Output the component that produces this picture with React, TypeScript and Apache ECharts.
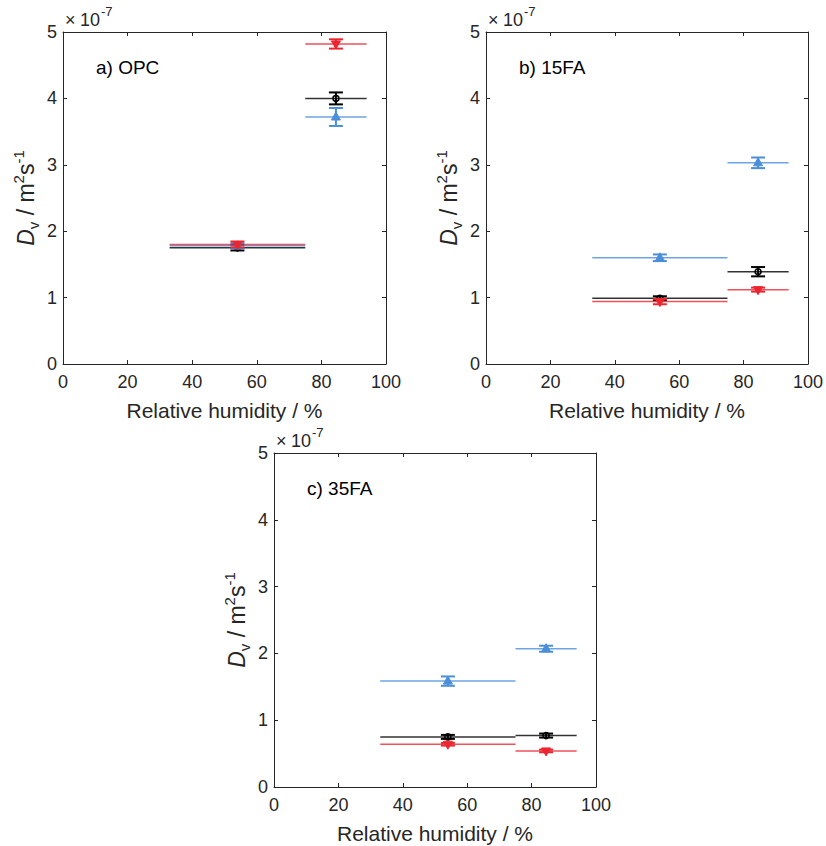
import React, { useEffect, useRef } from "react";
import * as echarts from "echarts";

// ---- data (D_v in units of 1e-7 m^2/s) ----
const panelLabels = ["a) OPC", "b) 15FA", "c) 35FA"];
const rhCenter = [54, 84.5];
const rhFrom = [33, 75];
const rhTo = [75, 94];

const opcBlack = [1.75, 4.0];
const opcBlackErr = [0.04, 0.09];
const opcBlue = [1.78, 3.72];
const opcBlueErr = [0.04, 0.135];
const opcRed = [1.8, 4.82];
const opcRedErr = [0.045, 0.07];

const fa15Black = [0.99, 1.39];
const fa15BlackErr = [0.03, 0.07];
const fa15Blue = [1.6, 3.03];
const fa15BlueErr = [0.05, 0.08];
const fa15Red = [0.94, 1.12];
const fa15RedErr = [0.04, 0.03];

const fa35Black = [0.75, 0.77];
const fa35BlackErr = [0.03, 0.03];
const fa35Blue = [1.585, 2.07];
const fa35BlueErr = [0.07, 0.045];
const fa35Red = [0.64, 0.54];
const fa35RedErr = [0.02, 0.02];

const xTicks = { min: 0, max: 100, interval: 20 };
const yTicks = { min: 0, max: 5, interval: 1 };

const FONT = "'Liberation Sans', Arial, Helvetica, sans-serif";
const AX = "#262626";
const BLACK = "#000000";
const BLUE = "#4A8FD8";
const RED = "#EC2631";

const grids = [
  { left: 63, top: 32, width: 323, height: 332 },
  { left: 486, top: 32, width: 322, height: 332 },
  { left: 274, top: 453, width: 322, height: 334 },
];

type Kind = "circle" | "up" | "down";

function makeSeries(panel: number, vals: number[], errs: number[], color: string, kind: Kind) {
  const data = vals.map((v, i) => [rhCenter[i], v, errs[i], rhFrom[i], rhTo[i]]);
  return {
    type: "custom",
    coordinateSystem: "cartesian2d",
    xAxisIndex: panel * 2,
    yAxisIndex: panel * 2,
    data,
    encode: { x: 0, y: 1 },
    renderItem: (params: any, api: any) => {
      const xc = api.value(0);
      const y = api.value(1);
      const e = api.value(2);
      const x0 = api.value(3);
      const x1 = api.value(4);
      const pL = api.coord([x0, y]);
      const pR = api.coord([x1, y]);
      const pc = api.coord([xc, y]);
      const pt = api.coord([xc, y + e]);
      const pb = api.coord([xc, y - e]);
      const cap = 7;
      const children: any[] = [
        {
          type: "line",
          shape: { x1: pL[0], y1: pL[1], x2: pR[0], y2: pR[1] },
          style: { stroke: color, lineWidth: 1.5, opacity: 0.8 },
        },
        {
          type: "line",
          shape: { x1: pt[0], y1: pt[1], x2: pb[0], y2: pb[1] },
          style: { stroke: color, lineWidth: 2 },
        },
        {
          type: "line",
          shape: { x1: pt[0] - cap, y1: pt[1], x2: pt[0] + cap, y2: pt[1] },
          style: { stroke: color, lineWidth: 2 },
        },
        {
          type: "line",
          shape: { x1: pb[0] - cap, y1: pb[1], x2: pb[0] + cap, y2: pb[1] },
          style: { stroke: color, lineWidth: 2 },
        },
      ];
      const cx = pc[0];
      const cy = pc[1];
      if (kind === "circle") {
        children.push({
          type: "circle",
          shape: { cx, cy, r: 3 },
          style: { stroke: color, fill: "none", lineWidth: 1.6 },
        });
      } else if (kind === "up") {
        children.push({
          type: "polygon",
          shape: { points: [[cx, cy - 5], [cx - 4.5, cy + 3], [cx + 4.5, cy + 3]] },
          style: { fill: color, stroke: color, lineWidth: 1 },
        });
      } else {
        children.push({
          type: "polygon",
          shape: { points: [[cx, cy + 5], [cx - 4.5, cy - 3], [cx + 4.5, cy - 3]] },
          style: { fill: color, stroke: color, lineWidth: 1 },
        });
      }
      return { type: "group", children };
    },
  };
}

export default function App() {
  const ref = useRef<HTMLDivElement>(null);
  useEffect(() => {
    if (!ref.current) return;
    const chart = echarts.init(ref.current, undefined, { renderer: "svg" });

    const lineStyle = { color: AX, width: 1 };
    const xAxes: any[] = [];
    const yAxes: any[] = [];
    grids.forEach((g, i) => {
      xAxes.push({
        gridIndex: i,
        type: "value",
        ...xTicks,
        position: "bottom",
        axisLine: { show: true, onZero: false, lineStyle },
        axisTick: { show: true, inside: true, length: 4, lineStyle },
        axisLabel: { fontSize: 18, color: AX, margin: 9, fontFamily: FONT },
        splitLine: { show: false },
        name: "Relative humidity / %",
        nameLocation: "middle",
        nameGap: 36,
        nameTextStyle: { fontSize: 21, color: AX, fontFamily: FONT },
      });
      xAxes.push({
        gridIndex: i,
        type: "value",
        ...xTicks,
        position: "top",
        axisLine: { show: true, onZero: false, lineStyle },
        axisTick: { show: true, inside: true, length: 4, lineStyle },
        axisLabel: { show: false },
        splitLine: { show: false },
      });
      yAxes.push({
        gridIndex: i,
        type: "value",
        ...yTicks,
        position: "left",
        axisLine: { show: true, onZero: false, lineStyle },
        axisTick: { show: true, inside: true, length: 4, lineStyle },
        axisLabel: { fontSize: 18, color: AX, margin: 6, fontFamily: FONT },
        splitLine: { show: false },
        name: "{d|D}{sub|v}{n| / m}{sup|2}{n|s}{sup|-1}",
        nameLocation: "middle",
        nameGap: 22,
        nameTextStyle: {
          color: AX,
          fontFamily: FONT,
          fontSize: 23,
          rich: {
            d: { fontSize: 23, fontStyle: "italic", color: AX, fontFamily: FONT, lineHeight: 30 },
            n: { fontSize: 23, color: AX, fontFamily: FONT, lineHeight: 30 },
            sub: { fontSize: 15, color: AX, fontFamily: FONT, lineHeight: 15, verticalAlign: "bottom" },
            sup: { fontSize: 15, color: AX, fontFamily: FONT, lineHeight: 15, verticalAlign: "top" },
          },
        },
      });
      yAxes.push({
        gridIndex: i,
        type: "value",
        ...yTicks,
        position: "right",
        axisLine: { show: true, onZero: false, lineStyle },
        axisTick: { show: true, inside: true, length: 4, lineStyle },
        axisLabel: { show: false },
        splitLine: { show: false },
      });
    });

    const graphics: any[] = [];
    grids.forEach((g, i) => {
      graphics.push({
        type: "text",
        x: g.left + 2,
        y: g.top - 12,
        style: {
          text: "×",
          fontSize: 18,
          fontFamily: FONT,
          fill: AX,
          verticalAlign: "middle",
          align: "left",
        },
      });
      graphics.push({
        type: "text",
        x: g.left + 17,
        y: g.top - 12,
        style: {
          text: "10",
          fontSize: 18,
          fontFamily: FONT,
          fill: AX,
          verticalAlign: "middle",
          align: "left",
        },
      });
      graphics.push({
        type: "text",
        x: g.left + 38,
        y: g.top - 21,
        style: {
          text: "-7",
          fontSize: 13,
          fontFamily: FONT,
          fill: AX,
          verticalAlign: "middle",
          align: "left",
        },
      });
      graphics.push({
        type: "text",
        x: g.left + 33,
        y: g.top + 35,
        style: {
          text: panelLabels[i],
          fontSize: 19,
          fontFamily: FONT,
          fill: "#000",
          verticalAlign: "middle",
          align: "left",
        },
      });
    });

    const series = [
      makeSeries(0, opcBlack, opcBlackErr, BLACK, "circle"),
      makeSeries(0, opcBlue, opcBlueErr, BLUE, "up"),
      makeSeries(0, opcRed, opcRedErr, RED, "down"),
      makeSeries(1, fa15Black, fa15BlackErr, BLACK, "circle"),
      makeSeries(1, fa15Blue, fa15BlueErr, BLUE, "up"),
      makeSeries(1, fa15Red, fa15RedErr, RED, "down"),
      makeSeries(2, fa35Black, fa35BlackErr, BLACK, "circle"),
      makeSeries(2, fa35Blue, fa35BlueErr, BLUE, "up"),
      makeSeries(2, fa35Red, fa35RedErr, RED, "down"),
    ];

    chart.setOption({
      animation: false,
      backgroundColor: "#ffffff",
      grid: grids.map((g) => ({ ...g, containLabel: false })),
      xAxis: xAxes,
      yAxis: yAxes,
      graphic: graphics,
      series,
    });
    return () => chart.dispose();
  }, []);
  return (
    <div
      ref={ref}
      style={{ position: "absolute", left: 0, top: 0, width: 826, height: 846 }}
    />
  );
}
